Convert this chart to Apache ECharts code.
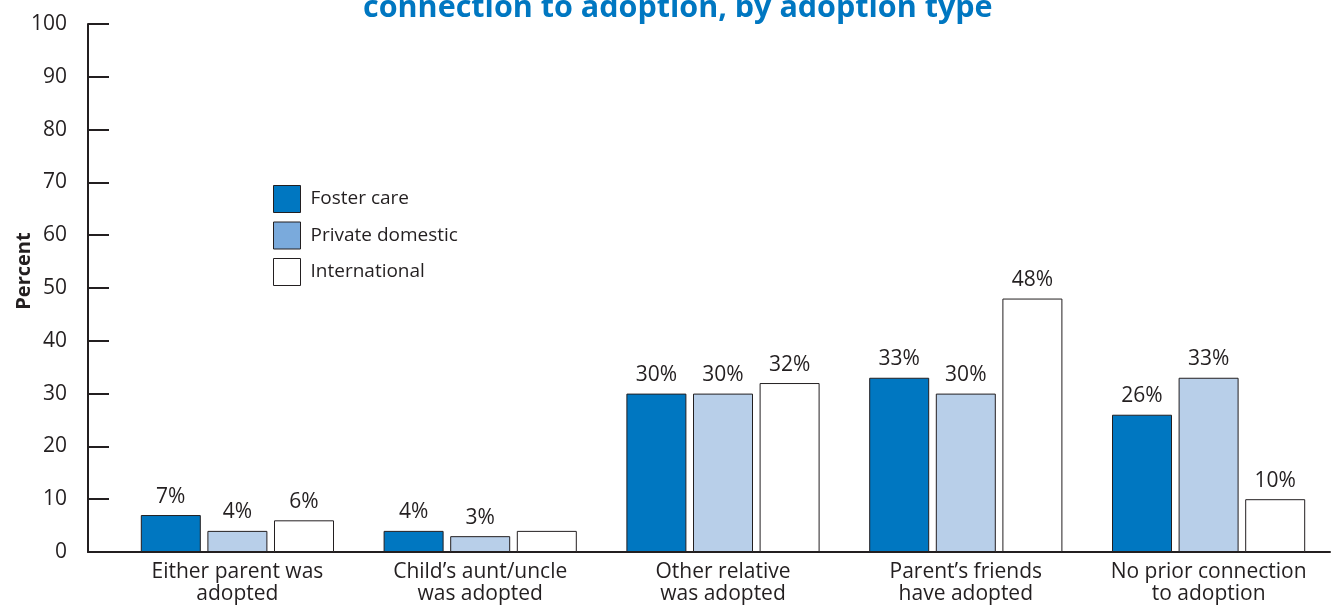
<!DOCTYPE html>
<html><head><meta charset="utf-8">
<script src="https://cdn.jsdelivr.net/npm/echarts@6/dist/echarts.min.js"></script>
<style>html,body{margin:0;padding:0;background:#fff}#c{width:1334px;height:607px}</style>
</head><body><div id="c"></div>
<script>
const categories = ["Either parent was\nadopted","Child’s aunt/uncle\nwas adopted","Other relative\nwas adopted","Parent’s friends\nhave adopted","No prior connection\nto adoption"];
const seriesNames = ["Foster care","Private domestic","International"];
const fosterCare = [7,4,30,33,26];
const privateDomestic = [4,3,30,30,33];
const international = [6,4,32,48,10];
const hiddenLabels = [[],[],[1]]; // indices with no printed value label
const yTicks = [0,10,20,30,40,50,60,70,80,90,100];

const FONT = "Open Sans";
const INK = "#231f20";
const barColors = ["#0077c1","#b8cfe9","#ffffff"];
const legendColors = ["#0077c1","#7aaadc","#ffffff"];
const values = [fosterCare, privateDomestic, international];

const chart = echarts.init(document.getElementById('c'), null, {renderer:'canvas'});
const series = values.map((vals, si) => ({
  name: seriesNames[si],
  type: 'bar',
  xAxisIndex: 0, yAxisIndex: 0,
  barWidth: 60,
  barGap: '11%',
  itemStyle: {color: barColors[si], borderColor: INK, borderWidth: 1},
  label: {show: true, position: 'top', distance: 8, formatter: '{c}%', fontFamily: FONT, fontSize: 21, color: INK},
  data: vals.map((v, i) => hiddenLabels[si].includes(i) ? {value: v, label: {show: false}} : v)
}));

chart.setOption({
  animation: false,
  textStyle: {fontFamily: FONT},
  title: {
    text: 'connection to adoption, by adoption type',
    left: 358, top: -12,
    textStyle: {fontFamily: "Open Sans", fontWeight: 'bold', fontSize: 30.5, color: '#0077c1'}
  },
  legend: {
    orient: 'vertical', left: 268, top: 180,
    itemWidth: 27, itemHeight: 27, itemGap: 8.5,
    textStyle: {fontFamily: FONT, fontSize: 19, color: INK, padding: [0,0,0,5]},
    data: seriesNames.map((n, i) => ({name: n, icon: 'rect', itemStyle: {color: legendColors[i], borderColor: INK, borderWidth: 1}}))
  },
  grid: [
    {left: 116, right: 4, top: 24, bottom: 55, outerBoundsMode: 'none', containLabel: false},
    {left: 88, right: 4, top: 24, bottom: 55, outerBoundsMode: 'none', containLabel: false}
  ],
  xAxis: [
    {type: 'category', gridIndex: 0, data: categories,
     axisLine: {show: false}, axisTick: {show: false},
     axisLabel: {interval: 0, hideOverlap: false, fontFamily: FONT, fontSize: 21, color: INK, lineHeight: 22, margin: 9}},
    {type: 'category', gridIndex: 1, data: [''],
     axisLine: {show: true, lineStyle: {color: INK, width: 2}}, axisTick: {show: false}, axisLabel: {show: false}}
  ],
  yAxis: [
    {type: 'value', gridIndex: 0, min: 0, max: 100, interval: 10, show: false},
    {type: 'value', gridIndex: 1, min: yTicks[0], max: yTicks[yTicks.length-1], interval: 10,
     name: 'Percent', nameLocation: 'middle', nameGap: 54, nameRotate: 90, nameMoveOverlap: false,
     nameTextStyle: {fontFamily: FONT, fontWeight: 'bold', fontSize: 20, color: INK, padding: [0,0,0,34]},
     axisLine: {show: true, lineStyle: {color: INK, width: 2}},
     axisTick: {show: true, inside: true, length: 21, lineStyle: {color: INK, width: 2}},
     splitLine: {show: false},
     axisLabel: {fontFamily: FONT, fontSize: 21, color: INK, margin: 21}}
  ],
  series: series
});
</script></body></html>
